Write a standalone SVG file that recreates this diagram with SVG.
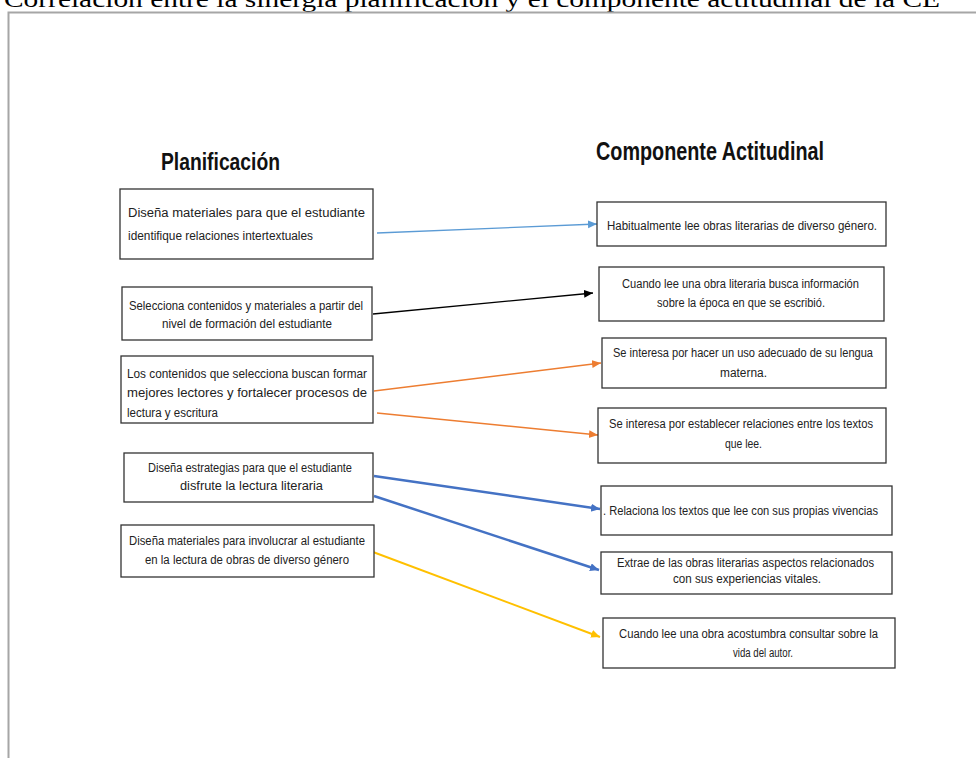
<svg xmlns="http://www.w3.org/2000/svg" width="976" height="758" viewBox="0 0 976 758">
<style>
.t{font-family:"Liberation Sans",Arial,sans-serif;font-size:12.5px;fill:#222}
.h{font-family:"Liberation Sans",Arial,sans-serif;font-weight:bold;fill:#111}
.box{fill:#fff;stroke:#333;stroke-width:1.3}
.c{fill:none}
</style>
<defs>
<marker id="aLB" markerUnits="userSpaceOnUse" markerWidth="10" markerHeight="10" refX="9" refY="4" orient="auto"><path d="M0,0 L9,4 L0,8 Z" fill="#5B9BD5"/></marker>
<marker id="aK" markerUnits="userSpaceOnUse" markerWidth="10" markerHeight="10" refX="9" refY="4" orient="auto"><path d="M0,0 L9,4 L0,8 Z" fill="#000"/></marker>
<marker id="aO" markerUnits="userSpaceOnUse" markerWidth="10" markerHeight="10" refX="9" refY="4" orient="auto"><path d="M0,0 L9,4 L0,8 Z" fill="#ED7D31"/></marker>
<marker id="aB" markerUnits="userSpaceOnUse" markerWidth="10" markerHeight="10" refX="9" refY="4" orient="auto"><path d="M0,0 L9,4 L0,8 Z" fill="#4472C4"/></marker>
<marker id="aY" markerUnits="userSpaceOnUse" markerWidth="10" markerHeight="10" refX="9" refY="4" orient="auto"><path d="M0,0 L9,4 L0,8 Z" fill="#FFC000"/></marker>
</defs>
<rect width="976" height="758" fill="#fff"/>
<text x="4" y="7" font-family="'Liberation Serif','Times New Roman',serif" font-size="24" fill="#000" textLength="936" lengthAdjust="spacingAndGlyphs">Correlación entre la sinergia planificación y el componente actitudinal de la CE</text>
<path d="M8.5,758 L8.5,12.5 L976,12.5" fill="none" stroke="#a6a6a6" stroke-width="2"/>

<g id="headings">
<text class="h" x="161" y="170" font-size="24" textLength="119" lengthAdjust="spacingAndGlyphs">Planificación</text>
<text class="h" x="596" y="160" font-size="26" textLength="228" lengthAdjust="spacingAndGlyphs">Componente Actitudinal</text>
</g>

<g id="connectors">
<line class="c" x1="377" y1="233" x2="597" y2="224" stroke="#5B9BD5" stroke-width="1.3" marker-end="url(#aLB)"/>
<line class="c" x1="373" y1="314" x2="593" y2="293" stroke="#000" stroke-width="1.3" marker-end="url(#aK)"/>
<line class="c" x1="374" y1="391" x2="601" y2="363" stroke="#ED7D31" stroke-width="1.5" marker-end="url(#aO)"/>
<line class="c" x1="377" y1="413" x2="598" y2="435" stroke="#ED7D31" stroke-width="1.5" marker-end="url(#aO)"/>
<line class="c" x1="374" y1="476" x2="600" y2="509" stroke="#4472C4" stroke-width="2.5" marker-end="url(#aB)"/>
<line class="c" x1="374" y1="496" x2="599" y2="570" stroke="#4472C4" stroke-width="2.5" marker-end="url(#aB)"/>
<line class="c" x1="373" y1="552" x2="600" y2="637" stroke="#FFC000" stroke-width="2" marker-end="url(#aY)"/>
</g>

<g id="L1"><rect class="box" x="120" y="189" width="253" height="70"/>
<text class="t" x="128" y="217" textLength="237" lengthAdjust="spacingAndGlyphs">Diseña materiales para que el estudiante</text>
<text class="t" x="128" y="240" textLength="185" lengthAdjust="spacingAndGlyphs">identifique relaciones intertextuales</text></g>

<g id="L2"><rect class="box" x="122" y="287" width="250" height="53"/>
<text class="t" x="129" y="310" textLength="234" lengthAdjust="spacingAndGlyphs">Selecciona contenidos y materiales a partir del</text>
<text class="t" x="162" y="328" textLength="170" lengthAdjust="spacingAndGlyphs">nivel de formación del estudiante</text></g>

<g id="L3"><rect class="box" x="121" y="356" width="252" height="67"/>
<text class="t" x="127" y="378" textLength="240" lengthAdjust="spacingAndGlyphs">Los contenidos que selecciona buscan formar</text>
<text class="t" x="127" y="397" textLength="240" lengthAdjust="spacingAndGlyphs">mejores lectores y fortalecer procesos de</text>
<text class="t" x="127" y="417" textLength="91" lengthAdjust="spacingAndGlyphs">lectura y escritura</text></g>

<g id="L4"><rect class="box" x="124" y="453" width="249" height="49"/>
<text class="t" x="148" y="472" textLength="204" lengthAdjust="spacingAndGlyphs">Diseña estrategias para que el estudiante</text>
<text class="t" x="180" y="490" textLength="143" lengthAdjust="spacingAndGlyphs">disfrute la lectura literaria</text></g>

<g id="L5"><rect class="box" x="121" y="525" width="253" height="52"/>
<text class="t" x="129" y="545" textLength="236" lengthAdjust="spacingAndGlyphs">Diseña materiales para involucrar al estudiante</text>
<text class="t" x="145" y="564" textLength="204" lengthAdjust="spacingAndGlyphs">en la lectura de obras de diverso género</text></g>

<g id="R1"><rect class="box" x="597" y="202" width="289" height="44"/>
<text class="t" x="607" y="230" textLength="270" lengthAdjust="spacingAndGlyphs">Habitualmente lee obras literarias de diverso género.</text></g>

<g id="R2"><rect class="box" x="599" y="267" width="285" height="54"/>
<text class="t" x="622" y="288" textLength="237" lengthAdjust="spacingAndGlyphs">Cuando lee una obra literaria busca información</text>
<text class="t" x="657" y="307" textLength="168" lengthAdjust="spacingAndGlyphs">sobre la época en que se escribió.</text></g>

<g id="R3"><rect class="box" x="602" y="338" width="284" height="50"/>
<text class="t" x="613" y="357" textLength="260" lengthAdjust="spacingAndGlyphs">Se interesa por hacer un uso adecuado de su lengua</text>
<text class="t" x="720" y="377" textLength="47" lengthAdjust="spacingAndGlyphs">materna.</text></g>

<g id="R4"><rect class="box" x="598" y="408" width="288" height="55"/>
<text class="t" x="609" y="428" textLength="264" lengthAdjust="spacingAndGlyphs">Se interesa por establecer relaciones entre los textos</text>
<text class="t" x="725" y="448" textLength="37" lengthAdjust="spacingAndGlyphs">que lee.</text></g>

<g id="R5"><rect class="box" x="601" y="486" width="291" height="49"/>
<text class="t" x="603" y="515" textLength="275" lengthAdjust="spacingAndGlyphs">. Relaciona los textos que lee con sus propias vivencias</text></g>

<g id="R6"><rect class="box" x="601" y="552" width="291" height="42"/>
<text class="t" x="617" y="567" textLength="257" lengthAdjust="spacingAndGlyphs">Extrae de las obras literarias aspectos relacionados</text>
<text class="t" x="673" y="583" textLength="148" lengthAdjust="spacingAndGlyphs">con sus experiencias vitales.</text></g>

<g id="R7"><rect class="box" x="603" y="618" width="292" height="50"/>
<text class="t" x="619" y="638" textLength="259" lengthAdjust="spacingAndGlyphs">Cuando lee una obra acostumbra consultar sobre la</text>
<text class="t" x="733" y="657" textLength="60" lengthAdjust="spacingAndGlyphs">vida del autor.</text></g>
</svg>
